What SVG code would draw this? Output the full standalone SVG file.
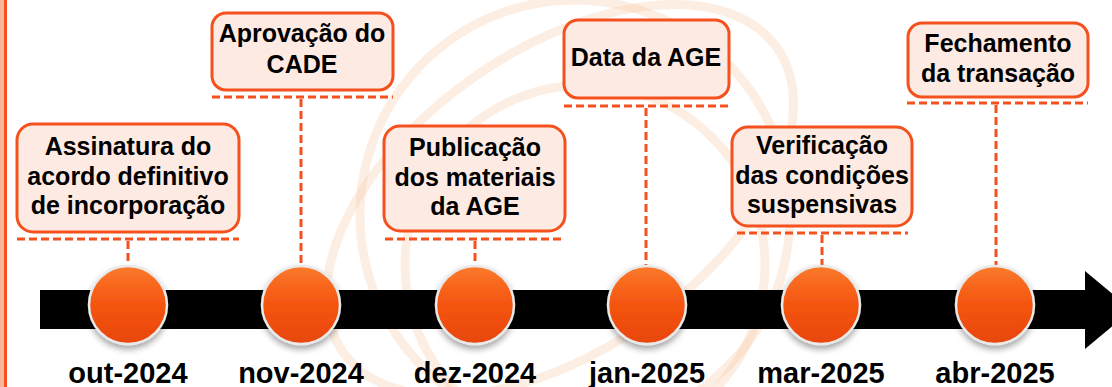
<svg xmlns="http://www.w3.org/2000/svg" width="1112" height="387" viewBox="0 0 1112 387">
<style>
.box{fill:#fdebe3;stroke:#f4511e;stroke-width:3}
.dash{stroke:#f4511e;stroke-width:3;stroke-dasharray:8 4;fill:none}
.t{font-family:"Liberation Sans",Arial,sans-serif;font-weight:bold;font-size:25px;fill:#000;text-anchor:middle}
.d{font-family:"Liberation Sans",Arial,sans-serif;font-weight:bold;font-size:29px;fill:#000;text-anchor:middle}
.wm{fill:none;stroke:#f8c7a3;stroke-width:9;opacity:0.3}
.dot{fill:url(#og);stroke:#e9e9e9;stroke-width:2.5;filter:url(#sh)}
</style>
<defs>
<linearGradient id="og" x1="0" y1="0" x2="0" y2="1">
<stop offset="0" stop-color="#fb7a2c"/>
<stop offset="0.5" stop-color="#f4540f"/>
<stop offset="1" stop-color="#e8460a"/>
</linearGradient>
<filter id="sh" x="-30%" y="-30%" width="160%" height="170%">
<feDropShadow dx="0" dy="4" stdDeviation="3" flood-color="#000" flood-opacity="0.35"/>
</filter>
</defs>
<rect width="1112" height="387" fill="#fff"/>
<g id="watermark">
<circle class="wm" cx="575" cy="215" r="215"/>
<ellipse class="wm" cx="560" cy="200" rx="265" ry="150" transform="rotate(-35 560 200)"/>
<circle class="wm" cx="585" cy="265" r="180"/>
</g>
<g id="edge">
<rect x="0" y="0" width="4" height="387" fill="#f6b89c"/>
<rect x="4" y="0" width="3" height="387" fill="#f4511e"/>
</g>
<g id="timeline">
<rect x="40" y="290" width="1046" height="39" fill="#000"/>
<polygon points="1085,271 1132,310 1085,349" fill="#000"/>
</g>
<g id="connectors">
<line class="dash" x1="17" y1="239" x2="239" y2="239"/>
<line class="dash" x1="128" y1="241" x2="128" y2="265"/>
<line class="dash" x1="212" y1="97" x2="393" y2="97"/>
<line class="dash" x1="301" y1="99" x2="301" y2="265"/>
<line class="dash" x1="385" y1="239" x2="565" y2="239"/>
<line class="dash" x1="475" y1="241" x2="475" y2="265"/>
<line class="dash" x1="564" y1="106" x2="729" y2="106"/>
<line class="dash" x1="646" y1="108" x2="646" y2="265"/>
<line class="dash" x1="737" y1="233" x2="908" y2="233"/>
<line class="dash" x1="822" y1="235" x2="822" y2="265"/>
<line class="dash" x1="907" y1="103" x2="1088" y2="103"/>
<line class="dash" x1="996" y1="105" x2="996" y2="265"/>
</g>
<g id="n1">
<rect class="box" x="17" y="124" width="222" height="108" rx="16"/>
<text class="t" x="128" y="155">Assinatura do</text>
<text class="t" x="128" y="185">acordo definitivo</text>
<text class="t" x="128" y="214">de incorporação</text>
<circle class="dot" cx="128" cy="305" r="39"/>
<text class="d" x="128" y="383">out-2024</text>
</g>
<g id="n2">
<rect class="box" x="212" y="13" width="181" height="77" rx="14"/>
<text class="t" x="302" y="42">Aprovação do</text>
<text class="t" x="302" y="73">CADE</text>
<circle class="dot" cx="301" cy="305" r="39"/>
<text class="d" x="301" y="383">nov-2024</text>
</g>
<g id="n3">
<rect class="box" x="384" y="126" width="181" height="105" rx="16"/>
<text class="t" x="475" y="156">Publicação</text>
<text class="t" x="475" y="186">dos materiais</text>
<text class="t" x="475" y="215">da AGE</text>
<circle class="dot" cx="475" cy="305" r="39"/>
<text class="d" x="475" y="383">dez-2024</text>
</g>
<g id="n4">
<rect class="box" x="564" y="20" width="165" height="78" rx="14"/>
<text class="t" x="646" y="66">Data da AGE</text>
<circle class="dot" cx="647" cy="305" r="39"/>
<text class="d" x="647" y="383">jan-2025</text>
</g>
<g id="n5">
<rect class="box" x="732" y="127" width="180" height="99" rx="16"/>
<text class="t" x="822" y="154">Verificação</text>
<text class="t" x="822" y="184">das condições</text>
<text class="t" x="822" y="213">suspensivas</text>
<circle class="dot" cx="821" cy="305" r="39"/>
<text class="d" x="821" y="383">mar-2025</text>
</g>
<g id="n6">
<rect class="box" x="908" y="23" width="180" height="74" rx="14"/>
<text class="t" x="998" y="52">Fechamento</text>
<text class="t" x="998" y="82">da transação</text>
<circle class="dot" cx="995" cy="305" r="39"/>
<text class="d" x="995" y="383">abr-2025</text>
</g>
</svg>
